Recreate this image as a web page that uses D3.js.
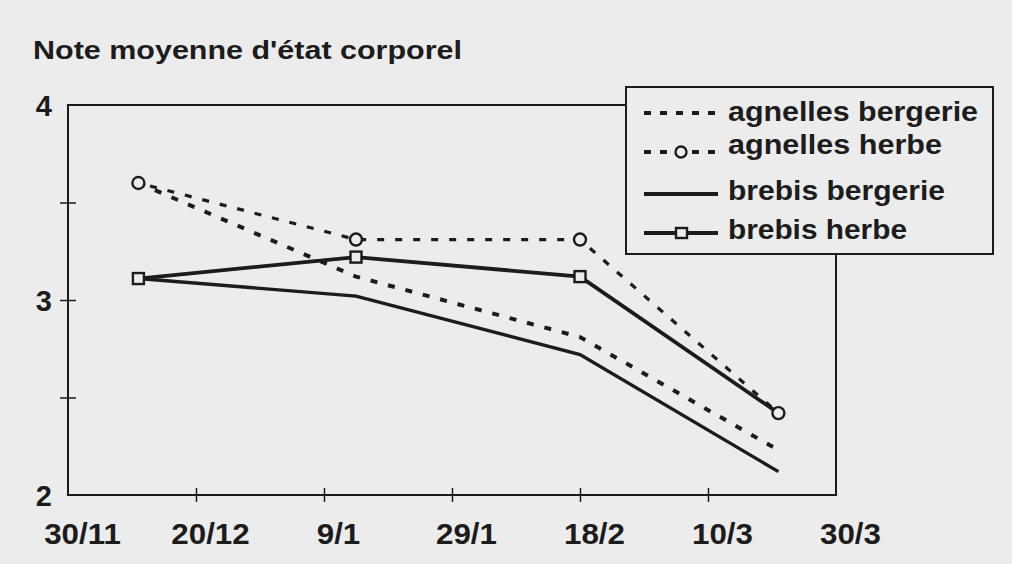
<!DOCTYPE html>
<html><head><meta charset="utf-8">
<script src="https://cdn.jsdelivr.net/npm/d3@7"></script>
<style>
html,body{margin:0;padding:0;background:#ececec;}
svg{display:block;}
text{font-family:"Liberation Sans",Arial,sans-serif;fill:#1c1c1c;}
</style></head>
<body>
<svg id="chart" width="1012" height="564"></svg>
<script>
// ---- data ----
const title = "Note moyenne d'état corporel";
const xTickDays = [0, 20, 40, 60, 80, 100, 120];
const xTickLabels = ["30/11", "20/12", "9/1", "29/1", "18/2", "10/3", "30/3"];
const yTicks = [2, 2.5, 3, 3.5, 4];
const yTickLabels = ["2", "", "3", "", "4"];
const sampleDays = [11, 45, 80, 111];           // days after 30/11
const agnellesBergerie = [3.60, 3.12, 2.81, 2.23];
const agnellesHerbe    = [3.60, 3.31, 3.31, 2.42];
const brebisBergerie   = [3.11, 3.02, 2.72, 2.12];
const brebisHerbe      = [3.11, 3.22, 3.12, 2.42];
const seriesNames = ["agnelles bergerie", "agnelles herbe", "brebis bergerie", "brebis herbe"];

// ---- layout ----
const ink = "#1c1c1c", bg = "#ececec";
const FONT = "Liberation Sans, Arial, sans-serif";
const svg = d3.select("#chart");
const x = d3.scaleLinear().domain([0, 120]).range([68, 836]);
const y = d3.scaleLinear().domain([2, 4]).range([495, 105]);

// frame
svg.append("path")
  .attr("d", `M${x(0)},${y(2)} V${y(4)} H${x(120)} V${y(2)} Z`)
  .attr("fill", "none").attr("stroke", ink).attr("stroke-width", 2);

// y ticks
const yAxis = d3.axisLeft(y).tickValues(yTicks).tickSize(0).tickFormat((d, i) => yTickLabels[i]);
const gy = svg.append("g").attr("transform", `translate(${x(0)},0)`).call(yAxis);
gy.select(".domain").remove();
gy.selectAll(".tick text").attr("x", -16).attr("dy", "0.37em")
  .style("font-size", "29px").style("font-weight", "bold").attr("fill", ink)
  .attr("font-family", FONT);
gy.selectAll(".tick").filter(d => d > 2 && d < 4).append("line")
  .attr("x1", -8).attr("x2", 8).attr("stroke", ink).attr("stroke-width", 1.5);

// x ticks
const xAxis = d3.axisBottom(x).tickValues(xTickDays).tickSize(0).tickFormat((d, i) => xTickLabels[i]);
const gx = svg.append("g").attr("transform", `translate(0,${y(2)})`).call(xAxis);
gx.select(".domain").remove();
gx.selectAll(".tick text").attr("y", 49).attr("dy", 0).attr("dx", 14)
  .style("font-size", "29px").style("font-weight", "bold").attr("fill", ink)
  .attr("font-family", FONT)
  .each(function() {
    const w = this.getComputedTextLength();
    d3.select(this).attr("textLength", w * 1.08).attr("lengthAdjust", "spacingAndGlyphs");
  });
gx.selectAll(".tick").filter(d => d > 0 && d < 120).append("line")
  .attr("y1", -7).attr("y2", 7).attr("stroke", ink).attr("stroke-width", 1.5);

// title
svg.append("text").attr("x", 33).attr("y", 59).text(title)
  .attr("font-size", 26).attr("font-weight", "bold")
  .attr("textLength", 429).attr("lengthAdjust", "spacingAndGlyphs");

// lines
const line = d3.line().x(d => x(d[0])).y(d => y(d[1]));
const pts = vals => sampleDays.map((d, i) => [d, vals[i]]);
const dash = "7,11";
svg.append("path").attr("d", line(pts(agnellesBergerie))).attr("fill", "none")
  .attr("stroke", ink).attr("stroke-width", 4).attr("stroke-dasharray", dash);
svg.append("path").attr("d", line(pts(agnellesHerbe))).attr("fill", "none")
  .attr("stroke", ink).attr("stroke-width", 3.2).attr("stroke-dasharray", dash).attr("stroke-dashoffset", -12);
svg.append("path").attr("d", line(pts(brebisBergerie))).attr("fill", "none")
  .attr("stroke", ink).attr("stroke-width", 3.4);
svg.append("path").attr("d", line(pts(brebisHerbe))).attr("fill", "none")
  .attr("stroke", ink).attr("stroke-width", 3.8);

// markers: squares for brebis herbe (last hidden under circle), circles for agnelles herbe
svg.selectAll("rect.sq").data(pts(brebisHerbe).slice(0, 3)).join("rect").attr("class", "sq")
  .attr("x", d => x(d[0]) - 5.5).attr("y", d => y(d[1]) - 5.5).attr("width", 11).attr("height", 11)
  .attr("fill", bg).attr("stroke", ink).attr("stroke-width", 2.4);
svg.selectAll("circle.ci").data(pts(agnellesHerbe)).join("circle").attr("class", "ci")
  .attr("cx", d => x(d[0])).attr("cy", d => y(d[1])).attr("r", 6)
  .attr("fill", bg).attr("stroke", ink).attr("stroke-width", 2.4);

// legend
const lg = svg.append("g");
lg.append("rect").attr("x", 626).attr("y", 87).attr("width", 367).attr("height", 167)
  .attr("fill", bg).attr("stroke", ink).attr("stroke-width", 2);
const legY = [113, 152, 194, 233];
const legBase = [121, 154, 200, 239];
const legLen = [250, 214, 217, 179];
seriesNames.forEach((name, i) => {
  const yy = legY[i];
  const l = lg.append("line").attr("x1", 644).attr("x2", 718).attr("y1", yy).attr("y2", yy)
    .attr("stroke", ink).attr("stroke-width", 3.8);
  if (i < 2) l.attr("stroke-dasharray", "7,9");
  if (i === 1) lg.append("circle").attr("cx", 681).attr("cy", yy).attr("r", 5.5)
    .attr("fill", bg).attr("stroke", ink).attr("stroke-width", 2.4);
  if (i === 3) lg.append("rect").attr("x", 676).attr("y", yy - 5).attr("width", 11).attr("height", 10)
    .attr("fill", bg).attr("stroke", ink).attr("stroke-width", 2.4);
  lg.append("text").attr("x", 728).attr("y", legBase[i]).text(name)
    .attr("font-size", 27).attr("font-weight", "bold")
    .attr("textLength", legLen[i]).attr("lengthAdjust", "spacingAndGlyphs");
});
</script>
</body></html>
